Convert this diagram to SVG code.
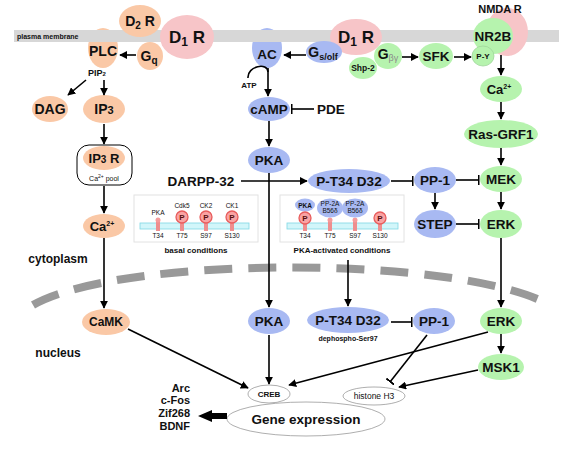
<svg xmlns="http://www.w3.org/2000/svg" width="579" height="449" viewBox="0 0 579 449">
<defs>
<style>
text{font-family:"Liberation Sans",Arial,sans-serif;font-weight:bold;fill:#111;text-anchor:middle}
.peach{fill:#fac8a6}
.blue{fill:#a8b9f2}
.green{fill:#b6f3ae}
.pink{fill:#f7c5c8}
.n{font-size:13.5px}
.ln{stroke:#000;stroke-width:1.6;fill:none}
.arr{marker-end:url(#ah)}
.inh{marker-end:url(#bar)}
.wn{fill:#fff;stroke:#999;stroke-width:0.8}
.box{fill:#fff;stroke:#e2e2e2;stroke-width:1}
.rod{fill:#d2f6fa;stroke:#7fd8e4;stroke-width:0.8}
.stub{fill:#ee8e8e}
.pc{fill:#f9a3a3;stroke:#e85c5c;stroke-width:1.3}
.pt{font-size:8px;fill:#5a1010}
.sm{font-size:6.5px;font-weight:normal}
</style>
<marker id="ah" viewBox="0 0 10 10" refX="9" refY="5" markerWidth="8" markerHeight="8" markerUnits="userSpaceOnUse" orient="auto"><path d="M0,0 L10,5 L0,10 z" fill="#000"/></marker>
<marker id="bar" viewBox="0 0 2 10" refX="1.5" refY="5" markerWidth="2" markerHeight="10" markerUnits="userSpaceOnUse" orient="auto"><rect width="2" height="10" fill="#000"/></marker>
</defs>
<rect width="579" height="449" fill="#fff"/>

<!-- nodes beneath membrane -->
<g id="PLC"><ellipse class="peach" cx="103" cy="48" rx="15" ry="20"/><text class="n" x="103" y="56" style="font-size:14px">PLC</text></g>
<g id="AC"><ellipse class="blue" cx="267" cy="48" rx="15" ry="20"/><text class="n" x="267" y="59">AC</text></g>

<g id="membrane"><rect x="14" y="30" width="545" height="12" fill="#d7d7d7"/><text x="17" y="39" style="font-size:7px;text-anchor:start">plasma membrane</text></g>

<g id="D2R"><ellipse class="peach" cx="140" cy="21" rx="21" ry="16"/><text x="140" y="26" style="font-size:14px">D<tspan style="font-size:10px" dy="3">2</tspan><tspan dy="-3"> R</tspan></text></g>
<g id="D1R_left"><ellipse class="pink" cx="187" cy="37" rx="27" ry="22"/><text x="187" y="43" style="font-size:17px">D<tspan style="font-size:12px" dy="3">1</tspan><tspan dy="-3"> R</tspan></text></g>
<g id="Gq"><ellipse class="peach" cx="150" cy="56" rx="13" ry="14"/><text x="149" y="61" style="font-size:14px">G<tspan style="font-size:10px" dy="3">q</tspan></text></g>

<g id="D1R_mid"><ellipse class="pink" cx="356" cy="37" rx="26" ry="18"/><text x="356" y="43" style="font-size:17px">D<tspan style="font-size:12px" dy="3">1</tspan><tspan dy="-3"> R</tspan></text></g>
<g id="Gs"><ellipse class="blue" cx="324" cy="52" rx="18" ry="11"/><text x="323" y="57" style="font-size:14px">G<tspan style="font-size:9px" dy="3">s/olf</tspan></text></g>
<g id="Gbg"><ellipse class="green" cx="388" cy="56" rx="14" ry="13"/><text x="388" y="59" style="font-size:14px">G<tspan style="font-size:9px;fill:#8a8a8a;font-weight:normal" dy="2">βγ</tspan></text></g>
<g id="Shp2"><ellipse class="green" cx="363" cy="68" rx="14" ry="11"/><text x="363" y="71" style="font-size:8.5px">Shp-2</text></g>
<g id="SFK"><ellipse class="green" cx="436" cy="56" rx="17" ry="13"/><text class="n" x="436" y="61">SFK</text></g>
<g id="NMDAR"><ellipse class="pink" cx="507" cy="32" rx="21" ry="24"/><ellipse class="green" cx="493" cy="36" rx="20" ry="18"/><text class="n" x="493" y="41">NR2B</text><text x="500" y="13" style="font-size:11px">NMDA R</text></g>
<g id="PY"><ellipse class="green" cx="483" cy="56" rx="11" ry="10" style="stroke:#9fd69a;stroke-width:0.8"/><text x="483" y="59" style="font-size:8px">P-Y</text></g>

<!-- left column -->
<g id="PIP2"><text x="97" y="76" style="font-size:9px">PIP<tspan style="font-size:6px">2</tspan></text></g>
<g id="DAG"><ellipse class="peach" cx="50" cy="109" rx="18" ry="13"/><text x="50" y="114" style="font-size:14px">DAG</text></g>
<g id="IP3"><ellipse class="peach" cx="104" cy="109" rx="21" ry="14"/><text x="104" y="114" style="font-size:14px">IP<tspan style="font-size:11px">3</tspan></text></g>
<g id="IP3R"><rect x="77" y="145" width="55" height="40" rx="12" fill="#fff" stroke="#000" stroke-width="1"/><ellipse class="peach" cx="104" cy="158" rx="21" ry="12"/><text x="104" y="163" style="font-size:13px">IP<tspan style="font-size:10px">3</tspan> R</text><text x="104" y="181" style="font-size:7px;font-weight:normal">Ca<tspan style="font-size:5px" dy="-3">2+</tspan><tspan dy="3"> pool</tspan></text></g>
<g id="Ca_left"><ellipse class="peach" cx="104" cy="226" rx="21" ry="12"/><text x="102" y="231" style="font-size:13px">Ca<tspan style="font-size:7px" dy="-5">2+</tspan></text></g>
<g id="CaMK"><ellipse class="peach" cx="106" cy="322" rx="24" ry="13"/><text x="106" y="326" style="font-size:12px">CaMK</text></g>
<text x="58" y="263" style="font-size:12px">cytoplasm</text>
<text x="58" y="357" style="font-size:12px">nucleus</text>

<!-- middle column -->
<g id="ATP"><text x="249" y="88" style="font-size:8px">ATP</text></g>
<g id="cAMP"><ellipse class="blue" cx="269" cy="109" rx="21" ry="12"/><text class="n" x="269" y="114">cAMP</text></g>
<g id="PDE"><text class="n" x="331" y="114">PDE</text></g>
<g id="PKA_cyto"><ellipse class="blue" cx="269" cy="160" rx="21" ry="13"/><text class="n" x="269" y="165">PKA</text></g>
<g id="DARPP32"><text x="201" y="186" style="font-size:13.5px">DARPP-32</text></g>
<g id="PT34_cyto"><ellipse class="blue" cx="349" cy="181" rx="41" ry="12"/><text class="n" x="349" y="186">P-T34 D32</text></g>
<g id="PP1_cyto"><ellipse class="blue" cx="435" cy="180" rx="21" ry="13"/><text class="n" x="435" y="185">PP-1</text></g>
<g id="STEP"><ellipse class="blue" cx="435" cy="224" rx="21" ry="14"/><text class="n" x="435" y="229">STEP</text></g>

<!-- right column -->
<g id="Ca_right"><ellipse class="green" cx="501" cy="89" rx="21" ry="13"/><text x="499" y="94" style="font-size:13px">Ca<tspan style="font-size:7px" dy="-5">2+</tspan></text></g>
<g id="RasGRF1"><ellipse class="green" cx="501" cy="134" rx="37" ry="14"/><text class="n" x="501" y="139">Ras-GRF1</text></g>
<g id="MEK"><ellipse class="green" cx="501" cy="179" rx="21" ry="13"/><text class="n" x="501" y="184">MEK</text></g>
<g id="ERK_cyto"><ellipse class="green" cx="501" cy="224" rx="21" ry="14"/><text class="n" x="501" y="229">ERK</text></g>

<!-- DARPP basal box -->
<g id="basal">
<rect class="box" x="134" y="195" width="124" height="47"/>
<rect class="rod" x="140" y="223" width="109" height="6"/>
<rect class="stub" x="156" y="221" width="4" height="10"/>
<rect class="stub" x="180" y="221" width="4" height="10"/>
<rect class="stub" x="204" y="221" width="4" height="10"/>
<rect class="stub" x="230" y="221" width="4" height="10"/>
<circle cx="158" cy="220" r="2.5" fill="#f59b9b"/>
<circle class="pc" cx="182" cy="217" r="6"/><text class="pt" x="182" y="220">P</text>
<circle class="pc" cx="206" cy="217" r="6"/><text class="pt" x="206" y="220">P</text>
<circle class="pc" cx="232" cy="217" r="6"/><text class="pt" x="232" y="220">P</text>
<text class="sm" x="158" y="215">PKA</text>
<text class="sm" x="182" y="208">Cdk5</text>
<text class="sm" x="206" y="208">CK2</text>
<text class="sm" x="232" y="208">CK1</text>
<text class="sm" x="158" y="238">T34</text>
<text class="sm" x="182" y="238">T75</text>
<text class="sm" x="206" y="238">S97</text>
<text class="sm" x="232" y="238">S130</text>
<text x="196" y="253" style="font-size:8px">basal conditions</text>
</g>

<!-- DARPP PKA-activated box -->
<g id="activated">
<rect class="box" x="280" y="195" width="124" height="47"/>
<rect class="rod" x="287" y="223" width="111" height="6"/>
<rect class="stub" x="303" y="221" width="4" height="10"/>
<rect class="stub" x="328" y="221" width="4" height="10"/>
<rect class="stub" x="353" y="221" width="4" height="10"/>
<rect class="stub" x="378" y="221" width="4" height="10"/>
<circle cx="330" cy="220" r="2.5" fill="#f59b9b"/>
<circle cx="355" cy="220" r="2.5" fill="#f59b9b"/>
<ellipse class="blue" cx="305" cy="205" rx="10" ry="6.5"/><text x="305" y="207.5" style="font-size:6.5px">PKA</text>
<ellipse class="blue" cx="330" cy="208" rx="13" ry="9.5"/><text class="sm" x="330" y="206">PP-2A</text><text class="sm" x="330" y="213">B56δ</text>
<ellipse class="blue" cx="355" cy="208" rx="13" ry="9.5"/><text class="sm" x="355" y="206">PP-2A</text><text class="sm" x="355" y="213">B56δ</text>
<circle class="pc" cx="305" cy="218" r="6"/><text class="pt" x="305" y="221">P</text>
<circle class="pc" cx="380" cy="218" r="6"/><text class="pt" x="380" y="221">P</text>
<text class="sm" x="305" y="238">T34</text>
<text class="sm" x="330" y="238">T75</text>
<text class="sm" x="355" y="238">S97</text>
<text class="sm" x="380" y="238">S130</text>
<text x="342" y="253" style="font-size:8px">PKA-activated conditions</text>
</g>

<!-- nuclear envelope -->
<path id="nuclear_envelope" d="M33,305 C120,255 460,255 550,305" fill="none" stroke="#999" stroke-width="8" stroke-dasharray="28 16"/>

<!-- nucleus nodes -->
<g id="PKA_nuc"><ellipse class="blue" cx="269" cy="321" rx="21" ry="13"/><text class="n" x="269" y="326">PKA</text></g>
<g id="PT34_nuc"><ellipse class="blue" cx="348" cy="320" rx="41" ry="13"/><text class="n" x="348" y="325">P-T34 D32</text><text x="348" y="341" style="font-size:7px">dephospho-Ser97</text></g>
<g id="PP1_nuc"><ellipse class="blue" cx="434" cy="321" rx="21" ry="13"/><text class="n" x="434" y="326">PP-1</text></g>
<g id="ERK_nuc"><ellipse class="green" cx="501" cy="321" rx="21" ry="13"/><text class="n" x="501" y="326">ERK</text></g>
<g id="MSK1"><ellipse class="green" cx="501" cy="367" rx="23" ry="13"/><text class="n" x="501" y="372">MSK1</text></g>
<g id="GeneExpression"><ellipse class="wn" cx="306" cy="419" rx="79" ry="17"/><text x="306" y="424" style="font-size:13.5px">Gene expression</text></g>
<g id="CREB"><ellipse class="wn" cx="269" cy="394" rx="21" ry="9"/><text x="269" y="397" style="font-size:8px">CREB</text></g>
<g id="histoneH3"><ellipse class="wn" cx="374" cy="396" rx="31" ry="9"/><text x="374" y="399" style="font-size:8.5px;font-weight:normal">histone H3</text></g>
<g id="genes" style="text-anchor:end">
<text x="190" y="392" style="font-size:11px;text-anchor:end">Arc</text>
<text x="190" y="404" style="font-size:11px;text-anchor:end">c-Fos</text>
<text x="190" y="417" style="font-size:11px;text-anchor:end">Zif268</text>
<text x="190" y="430" style="font-size:11px;text-anchor:end">BDNF</text>
</g>

<!-- connectors -->
<g id="connectors">
<line class="ln arr" x1="136" y1="55" x2="120" y2="55"/>
<line class="ln arr" x1="86" y1="80" x2="68" y2="95"/>
<line class="ln arr" x1="104" y1="80" x2="104" y2="95"/>
<line class="ln arr" x1="104" y1="124" x2="104" y2="144"/>
<line class="ln arr" x1="104" y1="186" x2="104" y2="213"/>
<line class="ln arr" x1="104" y1="238" x2="104" y2="308"/>
<line class="ln arr" x1="128" y1="329" x2="248" y2="388"/>
<line class="ln arr" x1="306" y1="55" x2="284" y2="55"/>
<path class="ln" d="M248,78 C247,66 268,62 268,72"/>
<line class="ln arr" x1="268" y1="68" x2="268" y2="96"/>
<line class="ln inh" x1="314" y1="109" x2="291" y2="109"/>
<line class="ln arr" x1="269" y1="121" x2="269" y2="146"/>
<line class="ln arr" x1="269" y1="173" x2="269" y2="307"/>
<line class="ln arr" x1="241" y1="181" x2="307" y2="181"/>
<line class="ln inh" x1="391" y1="181" x2="413" y2="181"/>
<line class="ln inh" x1="456" y1="180" x2="479" y2="180"/>
<line class="ln arr" x1="435" y1="193" x2="435" y2="209"/>
<line class="ln inh" x1="456" y1="224" x2="479" y2="224"/>
<line class="ln arr" x1="348" y1="260" x2="348" y2="306"/>
<line class="ln arr" x1="402" y1="57" x2="418" y2="57"/>
<line class="ln arr" x1="454" y1="57" x2="471" y2="57"/>
<line class="ln arr" x1="501" y1="55" x2="501" y2="75"/>
<line class="ln arr" x1="501" y1="102" x2="501" y2="119"/>
<line class="ln arr" x1="501" y1="148" x2="501" y2="165"/>
<line class="ln arr" x1="501" y1="192" x2="501" y2="209"/>
<line class="ln arr" x1="501" y1="238" x2="501" y2="307"/>
<line class="ln arr" x1="501" y1="334" x2="501" y2="353"/>
<line class="ln inh" x1="391" y1="322" x2="412" y2="322"/>
<line class="ln arr" x1="488" y1="332" x2="289" y2="385"/>
<line class="ln inh" x1="427" y1="335" x2="390" y2="382"/>
<line class="ln arr" x1="478" y1="370" x2="399" y2="387"/>
<line class="ln arr" x1="269" y1="335" x2="269" y2="384"/>
<polygon points="227,413 212,413 212,410 198,416 212,422 212,419 227,419" fill="#000"/>
</g>
</svg>
